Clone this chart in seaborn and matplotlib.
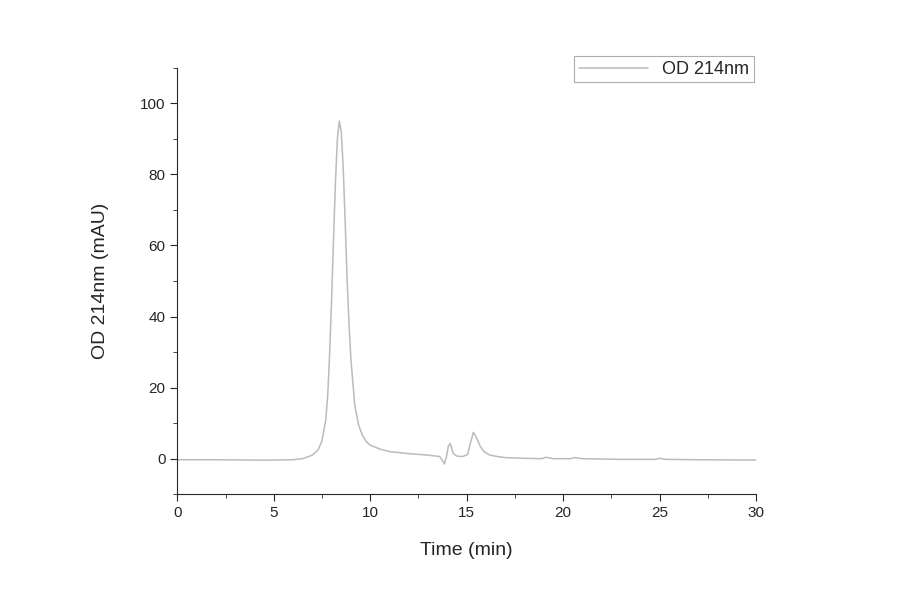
import matplotlib
matplotlib.use("Agg")
import matplotlib.pyplot as plt
import seaborn as sns
import pandas as pd
from matplotlib.ticker import MultipleLocator

# ===============================
# Data
# ===============================
time_min = [0, 2, 4, 5, 6, 6.5, 7.0, 7.3, 7.5, 7.7, 7.8, 7.9, 8.0, 8.1, 8.2, 8.3, 8.4,
            8.5, 8.6, 8.7, 8.8, 8.9, 9.0, 9.2, 9.4, 9.6, 9.8, 10.0, 10.5, 11.0,
            12.0, 13.0, 13.6, 13.75, 13.85, 13.95, 14.05, 14.15, 14.3, 14.5, 14.8,
            15.05, 15.2, 15.35, 15.5, 15.7, 15.9, 16.2, 16.6, 17.0, 18.0, 18.9,
            19.1, 19.5, 20.4, 20.6, 21.0, 23.0, 24.8, 25.0, 25.3, 27.0, 30.0]
od_214 = [-0.3, -0.3, -0.4, -0.4, -0.3, 0.0, 1.0, 2.5, 5.0, 11.0, 18.0, 30.0, 45.0, 62.0,
          78.0, 90.0, 95.0, 92.0, 82.0, 67.0, 51.0, 38.0, 28.0, 15.0, 9.5, 6.5, 4.8,
          3.8, 2.7, 2.0, 1.4, 1.0, 0.6, -0.5, -1.5, 0.5, 3.5, 4.3, 1.5, 0.7, 0.6,
          1.2, 4.5, 7.4, 6.0, 3.5, 2.0, 1.0, 0.6, 0.3, 0.1, 0.0, 0.4, 0.0, 0.0, 0.3,
          0.0, -0.2, -0.2, 0.1, -0.2, -0.3, -0.4]

df = pd.DataFrame({"Time (min)": time_min, "OD 214nm": od_214})

# ===============================
# Plot
# ===============================
sns.set_style("ticks")
plt.rcParams["font.family"] = ["Liberation Sans", "DejaVu Sans"]

fig = plt.figure(figsize=(9, 5.94), dpi=100)
ax = fig.add_axes([0.197, 0.168, 0.643, 0.718])

sns.lineplot(data=df, x="Time (min)", y="OD 214nm", ax=ax,
             color="#bbbbbb", linewidth=1.1, label="OD 214nm")

ax.set_xlim(0, 30)
ax.set_ylim(-10, 110)
ax.xaxis.set_major_locator(MultipleLocator(5))
ax.xaxis.set_minor_locator(MultipleLocator(2.5))
ax.yaxis.set_major_locator(MultipleLocator(20))
ax.yaxis.set_minor_locator(MultipleLocator(10))
ax.tick_params(which="both", direction="out", labelsize=11)
ax.tick_params(which="major", length=5)
ax.tick_params(which="minor", length=3)
for side in ["top", "right"]:
    ax.spines[side].set_visible(False)
ax.set_xlabel("Time (min)", fontsize=14, labelpad=16)
ax.set_ylabel("OD 214nm (mAU)", fontsize=14, labelpad=22)

leg = ax.legend(loc="upper right", fontsize=13, frameon=True, fancybox=False,
                handlelength=3.8, borderaxespad=0.2, bbox_to_anchor=(1.002, 1.035),
                borderpad=0.25)
leg.get_frame().set_edgecolor("#999999")
leg.get_frame().set_linewidth(0.8)

fig.savefig("out.png", dpi=100)
